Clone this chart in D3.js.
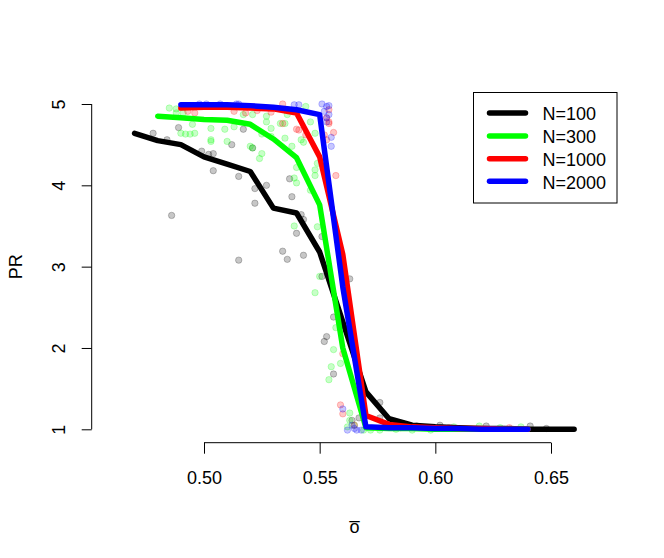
<!DOCTYPE html>
<html><head><meta charset="utf-8">
<script src="https://cdn.jsdelivr.net/npm/d3@7"></script>
<style>body{margin:0;background:#fff}svg{display:block}text{font-family:"Liberation Sans",Arial,Helvetica,sans-serif}</style>
</head><body>
<script>
// ---- data ----
const seriesNames = ["N=100", "N=300", "N=1000", "N=2000"];
const seriesColors = ["#000000", "#00ff00", "#ff0000", "#0000ff"];

const lineX100 = [0.47,0.48,0.49,0.50,0.51,0.52,0.53,0.54,0.55,0.56,0.57,0.58,0.59,0.60,0.61,0.62,0.63,0.64,0.65,0.66];
const lineY100 = [4.64,4.55,4.50,4.35,4.26,4.17,3.72,3.66,3.18,2.32,1.46,1.13,1.05,1.03,1.02,1.01,1.01,1.00,1.00,1.00];
const lineX300 = [0.48,0.49,0.50,0.51,0.52,0.53,0.54,0.55,0.56,0.57,0.58,0.59,0.60,0.61,0.62,0.63,0.64];
const lineY300 = [4.85,4.83,4.81,4.80,4.75,4.57,4.34,3.76,2.00,1.02,1.01,1.01,1.00,1.00,1.00,1.00,1.00];
const lineX1000 = [0.49,0.50,0.51,0.52,0.53,0.54,0.55,0.56,0.57,0.58,0.59,0.60,0.61,0.62,0.63,0.64];
const lineY1000 = [4.95,4.96,4.96,4.95,4.94,4.89,4.35,3.15,1.17,1.06,1.03,1.02,1.01,1.01,1.00,1.00];
const lineX2000 = [0.49,0.50,0.51,0.52,0.53,0.54,0.55,0.56,0.57,0.58,0.59,0.60,0.61,0.62,0.63,0.64];
const lineY2000 = [4.99,4.99,4.99,4.98,4.96,4.93,4.87,2.75,1.03,1.02,1.02,1.01,1.01,1.00,1.00,1.00];

const ptsX100 = [0.478,0.489,0.484,0.517,0.499,0.502,0.504,0.512,0.521,0.504,0.515,0.486,0.522,0.527,0.522,0.537,0.538,0.542,0.543,0.540,0.551,0.515,0.534,0.536,0.543,0.551,0.563,0.556,0.553,0.552,0.556,0.576,0.567,0.564,0.592,0.622,0.602,0.641,0.648,0.576];
const ptsY100 = [4.64,4.71,4.56,4.69,4.42,4.38,4.39,4.50,4.46,4.18,4.11,3.63,3.96,4.00,3.78,4.08,3.86,3.64,3.58,3.41,3.37,3.08,3.19,3.09,3.14,2.88,2.85,2.38,2.14,2.08,1.68,1.33,1.14,1.11,1.04,1.04,1.05,1.04,1.01,1.14];
const ptsX300 = [0.485,0.488,0.488,0.491,0.490,0.492,0.494,0.496,0.495,0.503,0.503,0.503,0.510,0.509,0.513,0.520,0.521,0.525,0.524,0.527,0.529,0.529,0.533,0.535,0.538,0.542,0.543,0.546,0.548,0.544,0.539,0.540,0.548,0.549,0.546,0.539,0.549,0.550,0.536,0.527,0.521,0.525,0.535,0.548,0.540,0.517,0.548,0.557,0.556,0.559,0.555,0.554,0.563,0.563,0.562,0.565,0.569,0.572,0.576,0.583,0.590,0.598,0.608,0.619,0.628,0.637];
const ptsY300 = [4.95,4.94,4.89,4.89,4.64,4.63,4.63,4.64,4.75,4.70,4.56,4.54,4.54,4.69,4.72,4.48,4.46,4.39,4.33,4.78,4.70,4.60,4.76,4.76,4.48,4.56,4.53,4.78,4.64,4.97,4.09,4.03,4.12,4.27,3.94,3.50,3.49,2.88,4.87,4.85,4.87,4.63,4.58,4.19,4.22,4.87,2.68,2.25,1.98,1.81,1.77,1.61,1.20,1.11,1.03,1.05,0.99,0.99,0.99,1.00,0.99,0.99,1.03,1.04,1.02,1.03];
const ptsX1000 = [0.534,0.534,0.541,0.544,0.553,0.554,0.552,0.556,0.554,0.529,0.523,0.496,0.513,0.518,0.540,0.554,0.553,0.557,0.560,0.559,0.560,0.565,0.585,0.606,0.632,0.493];
const ptsY1000 = [5.00,4.76,4.68,4.62,4.83,4.76,4.62,4.65,4.93,4.90,4.92,4.89,4.91,4.89,4.69,4.78,4.56,4.12,1.93,1.30,1.19,1.05,1.02,1.02,1.02,4.91];
const ptsX2000 = [0.498,0.501,0.514,0.515,0.539,0.541,0.551,0.553,0.554,0.552,0.554,0.553,0.553,0.555,0.555,0.560,0.564,0.565,0.566,0.568,0.562,0.507];
const ptsY2000 = [5.00,5.00,5.00,5.00,4.99,4.99,5.00,4.97,4.98,4.91,4.87,4.83,4.78,4.59,4.48,1.25,1.05,1.01,0.99,0.99,0.99,5.00];

const xTicks = [0.50, 0.55, 0.60, 0.65];
const yTicks = [1, 2, 3, 4, 5];

// ---- drawing ----
const W = 664, H = 558;
const svg = d3.select("body").append("svg").attr("width", W).attr("height", H);
const x = d3.scaleLinear().domain([0.5, 0.65]).range([204, 551]);
const y = d3.scaleLinear().domain([1, 5]).range([429.3, 104]);

const lines = [[lineX100, lineY100], [lineX300, lineY300], [lineX1000, lineY1000], [lineX2000, lineY2000]];
const pts = [[ptsX100, ptsY100], [ptsX300, ptsY300], [ptsX1000, ptsY1000], [ptsX2000, ptsY2000]];

// points
pts.forEach((p, i) => {
  const data = p[0].map((v, j) => [v, p[1][j]]);
  svg.append("g").selectAll("circle").data(data).join("circle")
    .attr("cx", d => x(d[0])).attr("cy", d => y(d[1])).attr("r", 3.2)
    .attr("fill", seriesColors[i]).attr("fill-opacity", 0.22)
    .attr("stroke", seriesColors[i]).attr("stroke-opacity", 0.22).attr("stroke-width", 1);
});

// lines
const lineGen = d3.line().x(d => x(d[0])).y(d => y(d[1]));
lines.forEach((l, i) => {
  const data = l[0].map((v, j) => [v, l[1][j]]);
  svg.append("path").datum(data).attr("d", lineGen)
    .attr("fill", "none").attr("stroke", seriesColors[i]).attr("stroke-width", 5.5)
    .attr("stroke-linejoin", "round").attr("stroke-linecap", "round");
});

// axes
const xAxis = d3.axisBottom(x).tickValues(xTicks).tickFormat(d3.format(".2f")).tickSize(11).tickPadding(12);
const gx = svg.append("g").attr("transform", "translate(0,442.7)").call(xAxis);
const yAxis = d3.axisLeft(y).tickValues(yTicks).tickFormat(d3.format("d")).tickSize(10).tickPadding(0);
const gy = svg.append("g").attr("transform", "translate(91.7,0)").call(yAxis);
[gx, gy].forEach(g => {
  g.select(".domain").attr("stroke", "#000").attr("stroke-width", 1);
  g.selectAll(".tick line").attr("stroke", "#000").attr("stroke-width", 1);
  g.selectAll("text").attr("font-size", 18).attr("fill", "#000")
    .attr("font-family", '"Liberation Sans",Arial,sans-serif');
});
gx.select(".domain").attr("d", `M${x(0.5)},0H${x(0.65)}`);
gx.selectAll(".tick text").attr("dy", null).attr("y", 41.3);
gy.select(".domain").attr("d", `M0,${y(1)}V${y(5)}`);
gy.selectAll(".tick text")
  .attr("x", null).attr("dy", null)
  .attr("text-anchor", "middle")
  .attr("transform", "translate(-26.7,0) rotate(-90)");

// axis labels
svg.append("text").attr("transform", "translate(21.7,266.7) rotate(-90)")
  .attr("text-anchor", "middle").attr("font-size", 18).text("PR");
svg.append("text").attr("x", 354.5).attr("y", 533.3)
  .attr("text-anchor", "middle").attr("font-size", 18).text("o\u0305");

// legend
const lg = svg.append("g");
lg.append("rect").attr("x", 473.5).attr("y", 92.5).attr("width", 143.5).attr("height", 110.5)
  .attr("fill", "#fff").attr("stroke", "#000").attr("stroke-width", 1);
const legY = [113, 136, 158.7, 181.3];
seriesNames.forEach((n, i) => {
  lg.append("line").attr("x1", 489.5).attr("x2", 525.5).attr("y1", legY[i]).attr("y2", legY[i])
    .attr("stroke", seriesColors[i]).attr("stroke-width", 5.5).attr("stroke-linecap", "round");
  lg.append("text").attr("x", 542.5).attr("y", legY[i] + 7.2).attr("font-size", 18).text(n);
});
</script>
</body></html>
